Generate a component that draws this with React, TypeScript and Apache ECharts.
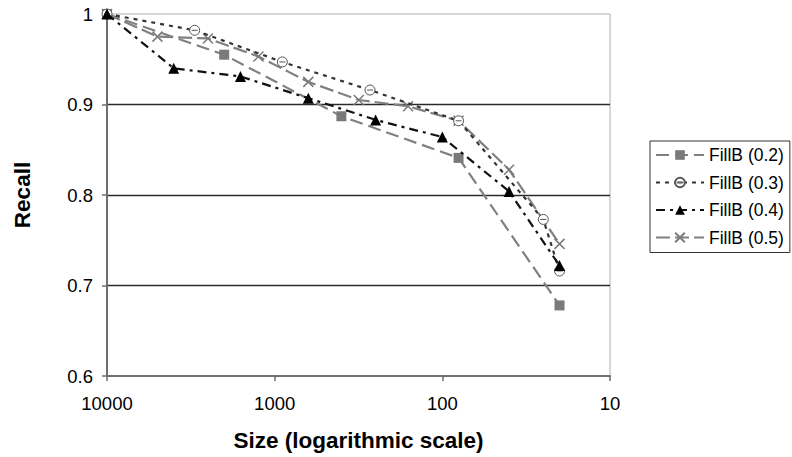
import React, { useEffect, useRef } from "react";
import * as echarts from "echarts";

const seriesNames = ["FillB (0.2)", "FillB (0.3)", "FillB (0.4)", "FillB (0.5)"];

const sizes02 = [10000, 2000, 400, 80, 20];
const recall02 = [1.0, 0.955, 0.887, 0.841, 0.678];

const sizes03 = [10000, 3000, 900, 270, 80, 25, 20];
const recall03 = [1.0, 0.982, 0.947, 0.916, 0.882, 0.773, 0.716];

const sizes04 = [10000, 4000, 1600, 630, 250, 100, 40, 20];
const recall04 = [1.0, 0.94, 0.931, 0.907, 0.883, 0.864, 0.804, 0.722];

const sizes05 = [10000, 5000, 2500, 1250, 630, 315, 160, 80, 40, 20];
const recall05 = [1.0, 0.975, 0.973, 0.953, 0.925, 0.905, 0.898, 0.882, 0.828, 0.746];

const xTickLabels = ["10", "100", "1000", "10000"];
const xTickValues = [10, 100, 1000, 10000];

const xTitle = "Size (logarithmic scale)";
const yTitle = "Recall";

const FONT = "'Liberation Sans', Arial, sans-serif";

function pairs(xs: number[], ys: number[]) {
  return xs.map((x, i) => [x, ys[i]]);
}

export default function App() {
  const ref = useRef<HTMLDivElement>(null);

  useEffect(() => {
    if (!ref.current) return;
    const chart = echarts.init(ref.current, undefined, { renderer: "svg" });

    const circleLine =
      "path://M10,0 A10,10 0 1,1 10,20 A10,10 0 1,1 10,0 Z M4,10 L16,10";
    const cross = "path://M0,0 L10,10 M10,0 L0,10";

    chart.setOption({
      animation: false,
      backgroundColor: "#ffffff",
      textStyle: { fontFamily: FONT },
      grid: {
        left: 107,
        right: 182,
        top: 14,
        bottom: 79,
        show: true,
        borderColor: "#b0b0b0",
        borderWidth: 1,
        backgroundColor: "transparent",
      },
      legend: {
        orient: "vertical",
        left: 650,
        top: 141,
        padding: [5, 6, 6, 5],
        borderColor: "#333333",
        borderWidth: 1,
        itemWidth: 48,
        itemHeight: 12,
        itemGap: 9.5,
        textStyle: {
          fontFamily: FONT,
          fontSize: 17.5,
          color: "#000000",
          lineHeight: 18,
        },
        data: seriesNames,
      },
      xAxis: {
        type: "log",
        logBase: 10,
        min: 10,
        max: 10000,
        inverse: true,
        name: xTitle,
        nameLocation: "middle",
        nameGap: 53,
        nameTextStyle: {
          fontFamily: FONT,
          fontSize: 22.5,
          fontWeight: "bold",
          color: "#000000",
        },
        axisLine: { show: true, lineStyle: { color: "#6e6e6e", width: 2 } },
        axisTick: { show: true, length: 5, inside: false, lineStyle: { color: "#6e6e6e", width: 1.5 } },
        minorTick: { show: false },
        splitLine: { show: false },
        axisLabel: {
          fontFamily: FONT,
          fontSize: 18.5,
          color: "#000000",
          margin: 18,
          formatter: (v: number) => {
            const idx = xTickValues.findIndex((t) => Math.abs(t - v) / t < 1e-6);
            return idx >= 0 ? xTickLabels[idx] : String(v);
          },
        },
      },
      yAxis: {
        type: "value",
        min: 0.6,
        max: 1,
        interval: 0.1,
        name: yTitle,
        nameLocation: "middle",
        nameGap: 73,
        nameRotate: 90,
        nameTextStyle: {
          fontFamily: FONT,
          fontSize: 22.5,
          fontWeight: "bold",
          color: "#000000",
        },
        axisLine: { show: true, lineStyle: { color: "#6e6e6e", width: 2 } },
        axisTick: { show: true, length: 5, inside: false, lineStyle: { color: "#6e6e6e", width: 1.5 } },
        splitLine: {
          show: true,
          showMinLine: false,
          showMaxLine: false,
          lineStyle: { color: "#2a2a2a", width: 1.4 },
        },
        axisLabel: {
          fontFamily: FONT,
          fontSize: 18.5,
          color: "#000000",
          margin: 14,
          formatter: (v: number) => String(Math.round(v * 10) / 10),
        },
      },
      series: [
        {
          name: seriesNames[0],
          type: "line",
          data: pairs(sizes02, recall02),
          symbol: "rect",
          symbolSize: 10,
          showAllSymbol: true,
          itemStyle: { color: "#7a7a7a", borderWidth: 0 },
          lineStyle: { color: "#808080", width: 2.2, type: [13, 6] },
          z: 2,
        },
        {
          name: seriesNames[1],
          type: "line",
          data: pairs(sizes03, recall03),
          symbol: circleLine,
          symbolSize: 10,
          showAllSymbol: true,
          itemStyle: { color: "#ffffff", borderColor: "#555555", borderWidth: 1 },
          lineStyle: { color: "#333333", width: 2.2, type: [4, 5] },
          z: 3,
        },
        {
          name: seriesNames[2],
          type: "line",
          data: pairs(sizes04, recall04),
          symbol: "triangle",
          symbolSize: 11,
          showAllSymbol: true,
          itemStyle: { color: "#000000", borderWidth: 0 },
          lineStyle: { color: "#111111", width: 2.2, type: [9, 5, 3, 5] },
          z: 4,
        },
        {
          name: seriesNames[3],
          type: "line",
          data: pairs(sizes05, recall05),
          symbol: cross,
          symbolSize: 10,
          showAllSymbol: true,
          itemStyle: { color: "#7a7a7a", borderColor: "#7a7a7a", borderWidth: 1.5 },
          lineStyle: { color: "#808080", width: 2.2, type: [14, 5] },
          z: 2,
        },
      ],
    });

    return () => {
      chart.dispose();
    };
  }, []);

  return (
    <div
      ref={ref}
      style={{ position: "fixed", left: 0, top: 0, width: 792, height: 457, background: "#fff" }}
    />
  );
}
